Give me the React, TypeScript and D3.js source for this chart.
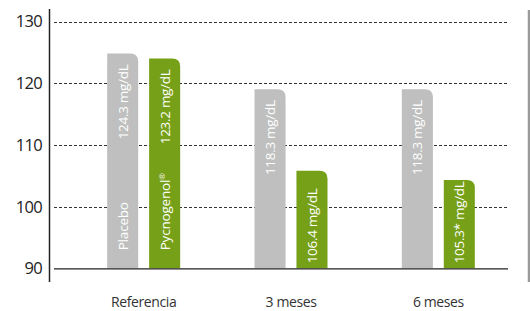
import React, { useEffect, useRef } from "react";
import * as d3 from "d3";

// groups along the x axis
const periods = ["Referencia", "3 meses", "6 meses"];
const treatments = ["Placebo", "Pycnogenol"];

// bar heights (mg/dL)
const placeboValues = [124.8, 119.0, 119.0];
const pycnogenolValues = [124.0, 105.8, 104.3];

// texts printed in the bars
const placeboLabels = ["124.3 mg/dL", "118.3 mg/dL", "118.3 mg/dL"];
const pycnogenolLabels = ["123.2 mg/dL", "106.4 mg/dL", "105.3* mg/dL"];

const yTicks = [90, 100, 110, 120, 130];

const colors = { Placebo: "#bebfbe", Pycnogenol: "#76a017" };
const FONT = "'Open Sans', 'Liberation Sans', sans-serif";

const App = () => {
  const svgRef = useRef<SVGSVGElement>(null);

  useEffect(() => {
    const svg = d3.select(svgRef.current);
    svg.selectAll("*").remove();

    const width = 530;
    const height = 311;

    const y = d3.scaleLinear().domain([90, 130]).range([268.3, 21.5]);
    const x0 = d3.scaleBand().domain(periods).range([70, 512]).padding(0);
    const x1 = d3
      .scaleBand()
      .domain(treatments)
      .range([0, 73])
      .paddingInner(0.26)
      .paddingOuter(0);

    // dashed grid
    svg
      .append("g")
      .selectAll("line")
      .data(yTicks.filter((t) => t > 90))
      .enter()
      .append("line")
      .attr("x1", 54)
      .attr("x2", 508)
      .attr("y1", (d) => Math.round(y(d)) + 0.5)
      .attr("y2", (d) => Math.round(y(d)) + 0.5)
      .attr("stroke", "#333")
      .attr("stroke-width", 1)
      .attr("stroke-dasharray", "3,2");

    // y tick labels
    svg
      .append("g")
      .selectAll("text")
      .data(yTicks)
      .enter()
      .append("text")
      .attr("x", 42)
      .attr("y", (d) => y(d))
      .attr("dy", "0.36em")
      .attr("text-anchor", "end")
      .attr("font-family", FONT)
      .attr("font-size", 16.5)
      .attr("letter-spacing", -0.7)
      .attr("fill", "#222")
      .text((d) => d);

    const rows = periods.map((p, i) => [
      { period: p, key: "Placebo", value: placeboValues[i], label: placeboLabels[i] },
      { period: p, key: "Pycnogenol", value: pycnogenolValues[i], label: pycnogenolLabels[i] },
    ]);

    const bw = x1.bandwidth();
    const r = 8;
    const base = y(90);

    const barPath = (x: number, top: number) =>
      `M${x},${base}V${top}H${x + bw - r}Q${x + bw},${top} ${x + bw},${top + r}V${base}Z`;

    const groups = svg
      .append("g")
      .selectAll("g")
      .data(rows)
      .enter()
      .append("g")
      .attr("transform", (d) => {
        const start = (x0(d[0].period) as number) + x0.bandwidth() / 2 - 36.5;
        return `translate(${start},0)`;
      });

    const bars = groups
      .selectAll("g")
      .data((d) => d)
      .enter()
      .append("g");

    bars
      .append("path")
      .attr("d", (d) => barPath(x1(d.key) as number, y(d.value)))
      .attr("fill", (d) => colors[d.key as keyof typeof colors]);

    // value label, rotated
    bars
      .append("text")
      .attr("transform", (d) => {
        const cx = (x1(d.key) as number) + bw / 2;
        const short = d.value < 110;
        const py = short ? base - 5 : y(d.value) + 11;
        return `translate(${cx},${py}) rotate(-90)`;
      })
      .attr("text-anchor", (d) => (d.value < 110 ? "start" : "end"))
      .attr("dy", "0.36em")
      .attr("font-family", FONT)
      .attr("font-size", 13.5)
      .attr("letter-spacing", -0.3)
      .attr("fill", "#fff")
      .text((d) => d.label);

    // series names inside the reference bars
    const refStart = (x0(periods[0]) as number) + x0.bandwidth() / 2 - 36.5;
    const nameG = svg.append("g").attr("transform", `translate(${refStart},0)`);
    treatments.forEach((t) => {
      const cx = (x1(t) as number) + bw / 2;
      const txt = nameG
        .append("text")
        .attr("transform", `translate(${cx},${base - 18}) rotate(-90)`)
        .attr("dy", "0.36em")
        .attr("font-family", FONT)
        .attr("font-size", 13.5)
        .attr("letter-spacing", -0.2)
        .attr("fill", "#fff");
      txt.append("tspan").text(t);
      if (t === "Pycnogenol") {
        txt
          .append("tspan")
          .attr("font-size", 8)
          .attr("dy", "-0.6em")
          .text("®");
      }
    });

    // baseline + y axis line
    svg
      .append("line")
      .attr("x1", 54)
      .attr("x2", 508)
      .attr("y1", base + 0.5)
      .attr("y2", base + 0.5)
      .attr("stroke", "#222")
      .attr("stroke-width", 1.3);
    svg
      .append("line")
      .attr("x1", 49.5)
      .attr("x2", 49.5)
      .attr("y1", 9)
      .attr("y2", 282)
      .attr("stroke", "#222")
      .attr("stroke-width", 1.5);

    // grey rule on the right edge
    svg
      .append("line")
      .attr("x1", 529)
      .attr("x2", 529)
      .attr("y1", 10)
      .attr("y2", 282)
      .attr("stroke", "#9a9a9a")
      .attr("stroke-width", 2.5);

    // category labels
    svg
      .append("g")
      .selectAll("text")
      .data(periods)
      .enter()
      .append("text")
      .attr("x", (d) => (x0(d) as number) + x0.bandwidth() / 2)
      .attr("y", 307)
      .attr("text-anchor", "middle")
      .attr("font-family", FONT)
      .attr("font-size", 14)
      .attr("letter-spacing", -0.4)
      .attr("fill", "#333")
      .text((d) => d);

    svg.attr("width", width).attr("height", height);
  }, []);

  return (
    <svg
      ref={svgRef}
      width={530}
      height={311}
      style={{ position: "absolute", left: 0, top: 0, background: "#fff" }}
    />
  );
};

export default App;
